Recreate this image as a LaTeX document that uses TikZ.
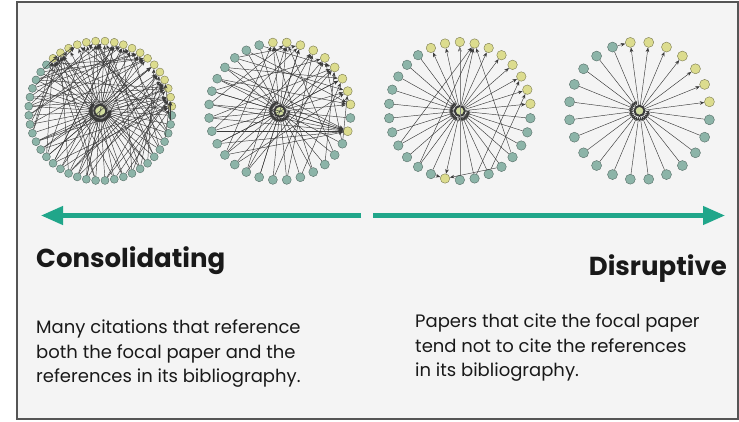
\documentclass[tikz,border=0pt]{standalone}
\usepackage{fontspec}
\setmainfont{Poppins}
\usetikzlibrary{arrows.meta}

\definecolor{framegray}{HTML}{555555}
\definecolor{panelbg}{HTML}{F4F4F4}
\definecolor{tealnode}{HTML}{8CB4A8}
\definecolor{yellownode}{HTML}{DCDC8E}
\definecolor{focalnode}{HTML}{D2DDA0}
\definecolor{edgegray}{HTML}{3A3A3A}
\definecolor{scalegreen}{HTML}{20A68A}

\begin{document}
\begin{tikzpicture}[x=1pt,y=-1pt]
        \tikzstyle{paper}=[circle, inner sep=0pt, line width=0.4pt]
        \tikzstyle{citing}=[paper, fill=tealnode, draw=tealnode!60!black]
        \tikzstyle{cited}=[paper, fill=yellownode, draw=yellownode!55!black]
        \tikzstyle{focal}=[circle, inner sep=0pt, minimum size=10pt, fill=focalnode, draw=edgegray, line width=2pt]
        \tikzstyle{cite}=[edgegray, line width=0.45pt, -{Stealth[length=4.5pt,width=3.6pt]}]
        \tikzstyle{scalearrow}=[scalegreen, line width=4.3pt, -{Triangle[length=22pt,width=18pt]}]
        \tikzstyle{label}=[anchor=base west, inner sep=0pt, text=black!90]

        \useasboundingbox (0,0) rectangle (739,421);
        \draw[framegray, fill=panelbg, line width=2pt] (16.5,1.5) rectangle (738,419);

        % consolidating network
        \foreach \k in {1,...,48}{
            \pgfmathsetmacro\ang{131.25-7.5*(\k-1)}
            \ifnum\k<19 \def\kind{cited}\else\def\kind{citing}\fi
            \node[\kind, minimum size=8pt] (a\k) at ({100.3+71.7*cos(\ang)},{110.8-69.8*sin(\ang)}) {};
        }
        \node[focal, minimum size=12pt] (ac) at (100.3,110.8) {};
        \foreach \k in {19,...,48} \draw[cite] (a\k) -- (ac);
        \foreach \k in {1,...,18} \draw[cite] (ac) -- (a\k);
        \pgfmathsetseed{977}
        \foreach \k in {19,...,48}{
            \pgfmathtruncatemacro\ta{random(1,18)}
            \pgfmathtruncatemacro\tb{random(1,18)}
            \draw[cite] (a\k) -- (a\ta);
            \draw[cite] (a\k) -- (a\tb);
        }
        \foreach \k in {2,5,...,17} {
            \pgfmathtruncatemacro\ta{random(30,46)}
            \draw[cite] (a\ta) -- (a\k);
        }

        % second network
        \foreach \k in {1,...,32}{
            \pgfmathsetmacro\ang{95.625-11.25*(\k-1)}
            \def\kind{citing}
            \ifnum\k<10 \def\kind{cited}\fi
            \ifnum\k=11 \def\kind{cited}\fi
            \node[\kind, minimum size=9pt] (b\k) at ({279.8+71*cos(\ang)},{111.2-69*sin(\ang)}) {};
        }
        \node[focal, minimum size=11pt] (bc) at (279.8,111.2) {};
        \foreach \k in {10,12,13,...,32} \draw[cite] (b\k) -- (bc);
        \foreach \k in {1,...,9,11} \draw[cite] (bc) -- (b\k);
        \foreach \s/\t in {12/5,12/8,13/2,14/6,15/1,16/7,17/4,18/5,19/3,20/6,21/8,22/1,22/4,23/7,
                           24/3,25/6,26/2,27/5,28/9,29/7,30/3,31/9,32/6,30/8,20/2}
            \draw[cite] (b\s) -- (b\t);
        \foreach \k in {22,...,29} \draw[cite] (b\k) -- (b11);

        % third network
        \foreach \k in {1,...,30}{
            \pgfmathsetmacro\ang{114-12*(\k-1)}
            \def\kind{citing}
            \ifnum\k<11 \def\kind{cited}\fi
            \ifnum\k=19 \def\kind{cited}\fi
            \node[\kind, minimum size=9.5pt] (c\k) at ({459.8+71*cos(\ang)},{111-69*sin(\ang)}) {};
        }
        \node[focal, minimum size=10pt] (cc) at (459.8,111) {};
        \foreach \k in {11,...,18,20,21,...,30} \draw[cite] (c\k) -- (cc);
        \foreach \k in {1,...,10,19} \draw[cite] (cc) -- (c\k);
        \draw[cite, gray] (c18) -- (c3);
        \draw[cite] (c23) -- (c4);
        \draw[cite] (c21) -- (c4);
        \draw[cite] (c14) -- (c4);
        \draw[cite] (c17) -- (c8);
        \draw[cite] (c16) -- (c9);
        \draw[cite] (c20) -- (c19);
        \draw[cite] (c15) -- (c19);

        % disruptive network
        \foreach \k in {1,...,24}{
            \pgfmathsetmacro\ang{112.5-15*(\k-1)}
            \def\kind{citing}
            \ifnum\k>1 \ifnum\k<9 \def\kind{cited}\fi\fi
            \node[\kind, minimum size=10pt] (d\k) at ({639.5+70.5*cos(\ang)},{110.8-69*sin(\ang)}) {};
        }
        \node[focal, minimum size=10pt] (dc) at (639.5,110.8) {};
        \foreach \k in {1,9,10,...,24} \draw[cite] (d\k) -- (dc);
        \foreach \k in {2,...,8} \draw[cite] (dc) -- (d\k);
        \draw[cite] (d1) -- (d2);

        % scale
        \coordinate (consolend) at (41,215.5);
        \coordinate (consolstart) at (361,215.5);
        \coordinate (disrupstart) at (373,215.5);
        \coordinate (disrupend) at (725,215.5);
        \draw[scalearrow] (consolstart) -- (consolend);
        \draw[scalearrow] (disrupstart) -- (disrupend);

        \node[label, font=\bfseries\fontsize{26}{28}\selectfont] (consol) at (36,267) {Consolidating};
        \node[label, anchor=base east, font=\bfseries\fontsize{26}{28}\selectfont] (disrup) at (727,275) {Disruptive};

        \node[label, anchor=north west, align=left, font=\fontsize{18}{24.5}\selectfont] (consoltext) at (36,320) {Many citations that reference\\both the focal paper and the\\references in its bibliography.};
        \node[label, anchor=north west, align=left, font=\fontsize{18}{24.5}\selectfont] (disruptext) at (415,314) {Papers that cite the focal paper\\tend not to cite the references\\in its bibliography.};
\end{tikzpicture}
\end{document}
